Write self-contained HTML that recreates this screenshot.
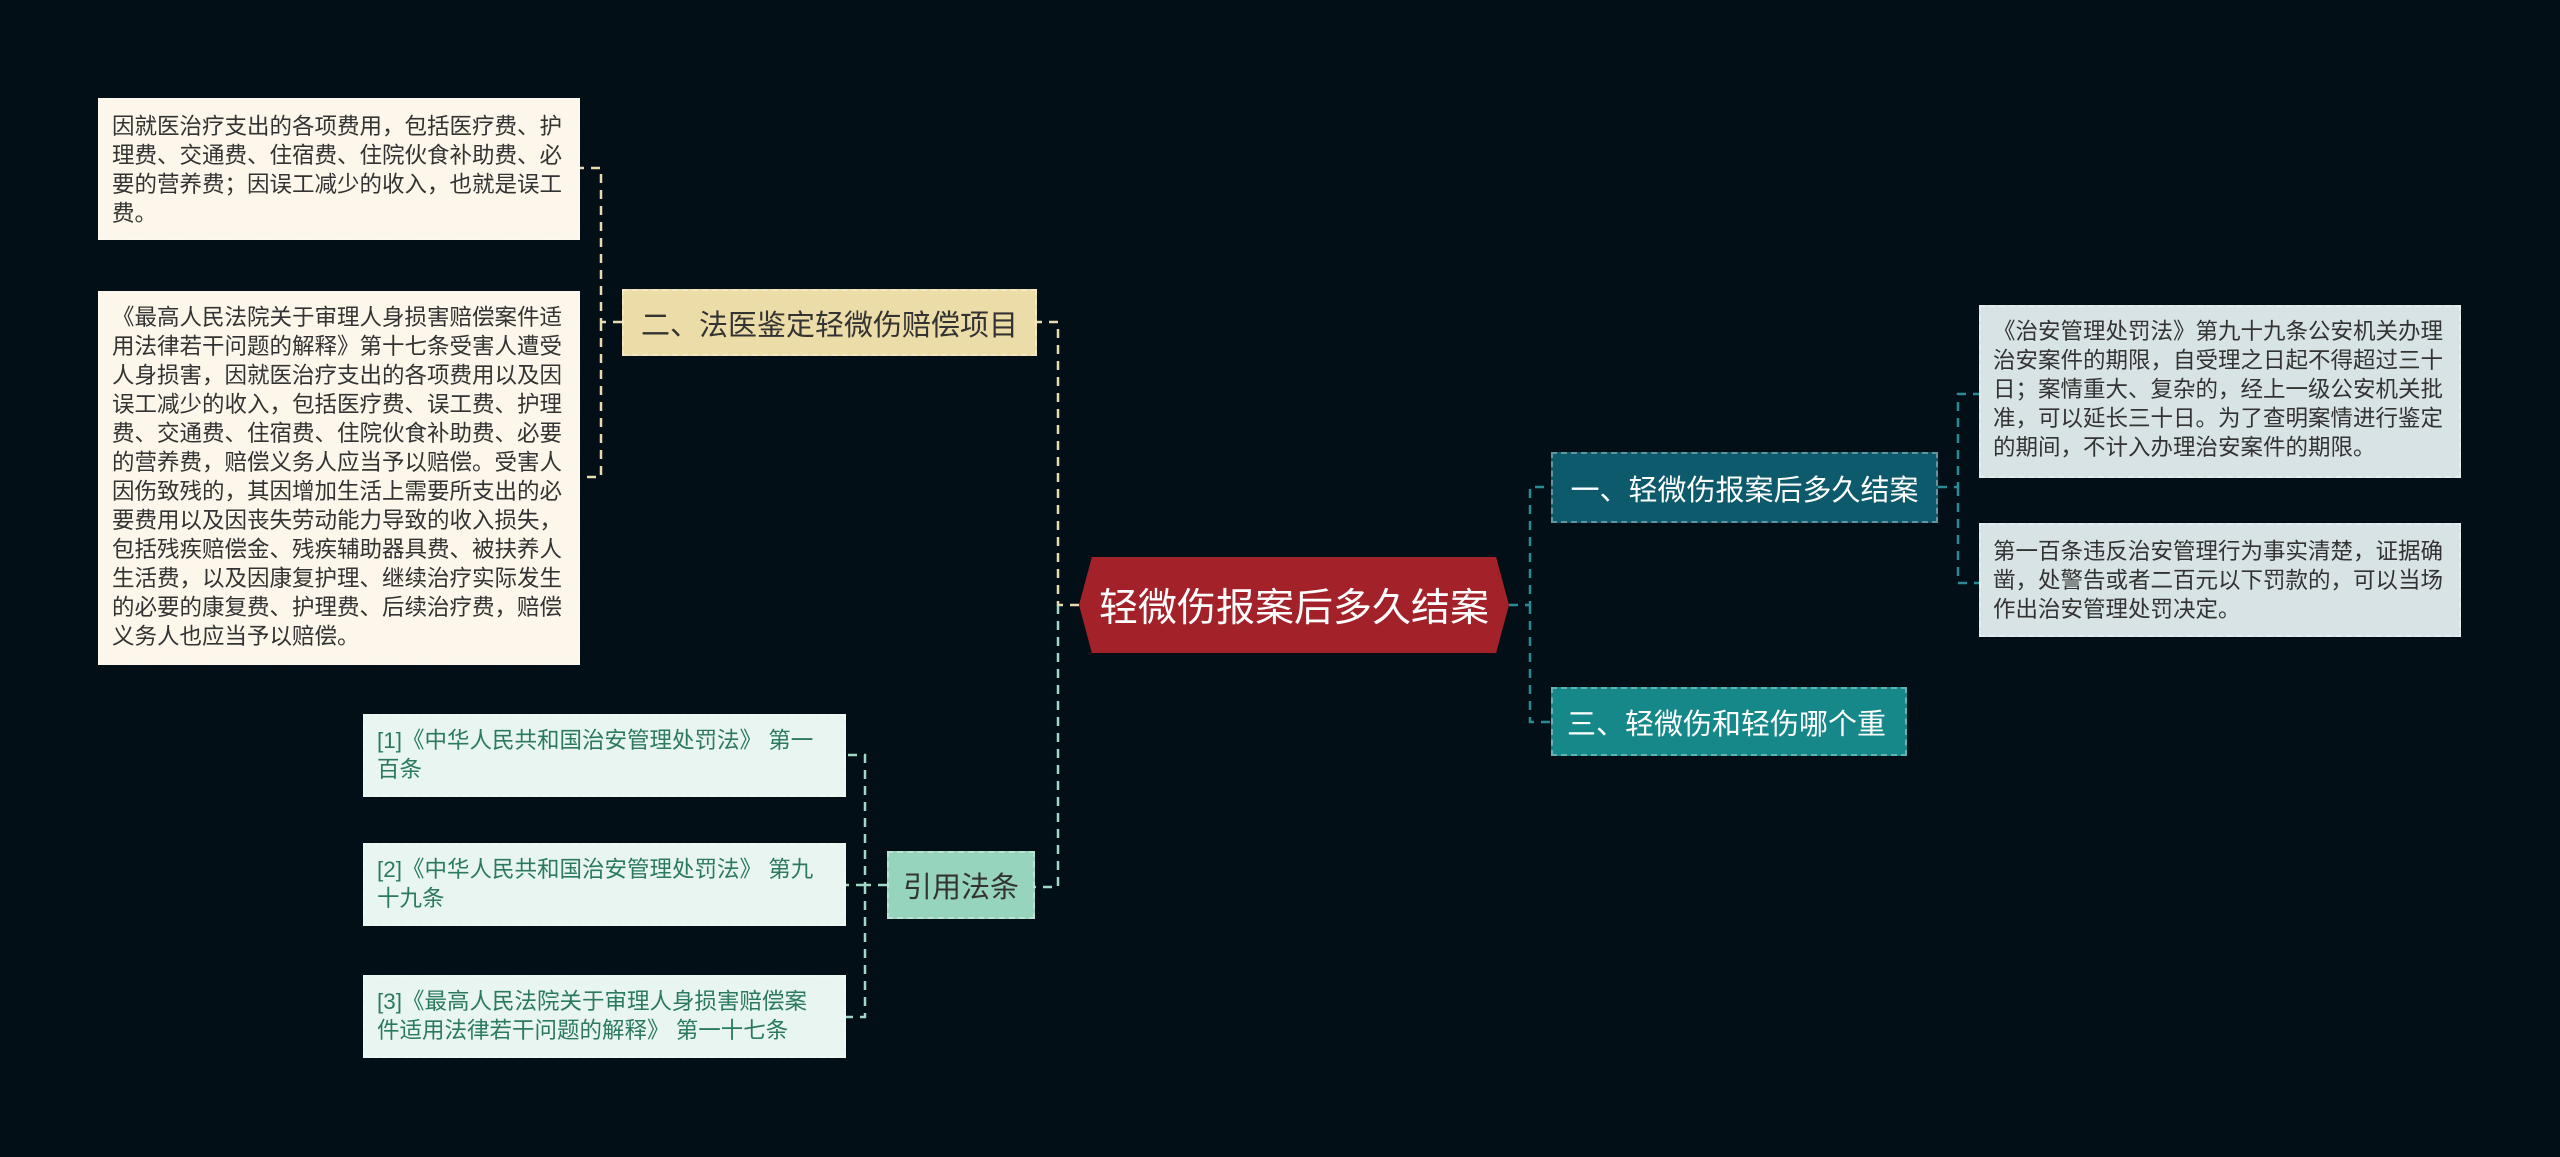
<!DOCTYPE html>
<html><head><meta charset="utf-8"><style>
body{margin:0;width:2560px;height:1157px;background:#020f17;overflow:hidden;position:relative;font-family:"Liberation Sans","Noto Sans CJK SC",sans-serif}
.b{position:absolute;box-sizing:border-box;border:2px dashed rgba(255,255,255,0.35)}
.t{font-size:22.5px;line-height:29px;color:#333;padding:10px 10px 6px 12px;word-break:break-all}
.n{display:flex;align-items:center;justify-content:center;white-space:nowrap}
svg{position:absolute;left:0;top:0}
</style></head><body>
<svg width="2560" height="1157">
<g fill="none" stroke-width="2.5" stroke-dasharray="9,7">
<path d="M1079 605 H1058 V322 H1037" stroke="#e8dcaf"/>
<path d="M1058 605 V887 H1035" stroke="#9fd8c6"/>
<path d="M1509 605 H1530 V487 H1551 M1530 605 V722 H1551" stroke="#2a8a96"/>
<path d="M622 322 H601 V168 H580 M601 322 V477 H580" stroke="#e8dcaf"/>
<path d="M1938 487 H1958 V394 H1979 M1958 487 V583 H1979" stroke="#2a8a96"/>
<path d="M887 885 H865 V755 H846 M865 885 V1017 H846 M865 885 H846" stroke="#9fd8c6"/>
</g>
</svg>
<div class="b t" style="left:98px;top:98px;width:482px;height:142px;background:#fcf7ea;padding-top:12px">因就医治疗支出的各项费用，包括医疗费、护理费、交通费、住宿费、住院伙食补助费、必要的营养费；因误工减少的收入，也就是误工费。</div>
<div class="b t" style="left:98px;top:291px;width:482px;height:374px;background:#fcf7ea;padding-top:10px">《最高人民法院关于审理人身损害赔偿案件适用法律若干问题的解释》第十七条受害人遭受人身损害，因就医治疗支出的各项费用以及因误工减少的收入，包括医疗费、误工费、护理费、交通费、住宿费、住院伙食补助费、必要的营养费，赔偿义务人应当予以赔偿。受害人因伤致残的，其因增加生活上需要所支出的必要费用以及因丧失劳动能力导致的收入损失，包括残疾赔偿金、残疾辅助器具费、被扶养人生活费，以及因康复护理、继续治疗实际发生的必要的康复费、护理费、后续治疗费，赔偿义务人也应当予以赔偿。</div>
<div class="b n" style="left:622px;top:289px;width:415px;height:67px;background:#ecdca8;font-size:29px;color:#333">二、法医鉴定轻微伤赔偿项目</div>
<div class="n" style="position:absolute;left:1079px;top:557px;width:430px;height:96px;background:#a3222a;clip-path:polygon(3% 0,97% 0,100% 50%,97% 100%,3% 100%,0 50%);font-size:39px;color:#fff">轻微伤报案后多久结案</div>
<div class="b n" style="left:1551px;top:452px;width:387px;height:71px;background:#0c5a6c;font-size:29px;color:#fff">一、轻微伤报案后多久结案</div>
<div class="b n" style="left:1551px;top:687px;width:356px;height:69px;background:#17888a;font-size:29px;color:#fff;justify-content:flex-start;padding-left:14px">三、轻微伤和轻伤哪个重</div>
<div class="b t" style="left:1979px;top:305px;width:482px;height:173px;background:#d8e3e6">《治安管理处罚法》第九十九条公安机关办理治安案件的期限，自受理之日起不得超过三十日；案情重大、复杂的，经上一级公安机关批准，可以延长三十日。为了查明案情进行鉴定的期间，不计入办理治安案件的期限。</div>
<div class="b t" style="left:1979px;top:523px;width:482px;height:114px;background:#d8e3e6;padding-top:12px">第一百条违反治安管理行为事实清楚，证据确凿，处警告或者二百元以下罚款的，可以当场作出治安管理处罚决定。</div>
<div class="b n" style="left:887px;top:851px;width:148px;height:68px;background:#97d4bd;font-size:29px;color:#333">引用法条</div>
<div class="b t" style="left:363px;top:714px;width:483px;height:83px;background:#e8f5f1;color:#2b7a5e;padding-top:10px">[1]《中华人民共和国治安管理处罚法》 第一百条</div>
<div class="b t" style="left:363px;top:843px;width:483px;height:83px;background:#e8f5f1;color:#2b7a5e;padding-top:10px">[2]《中华人民共和国治安管理处罚法》 第九十九条</div>
<div class="b t" style="left:363px;top:975px;width:483px;height:83px;background:#e8f5f1;color:#2b7a5e;padding-top:10px;padding-right:34px">[3]《最高人民法院关于审理人身损害赔偿案件适用法律若干问题的解释》 第一十七条</div>
</body></html>
